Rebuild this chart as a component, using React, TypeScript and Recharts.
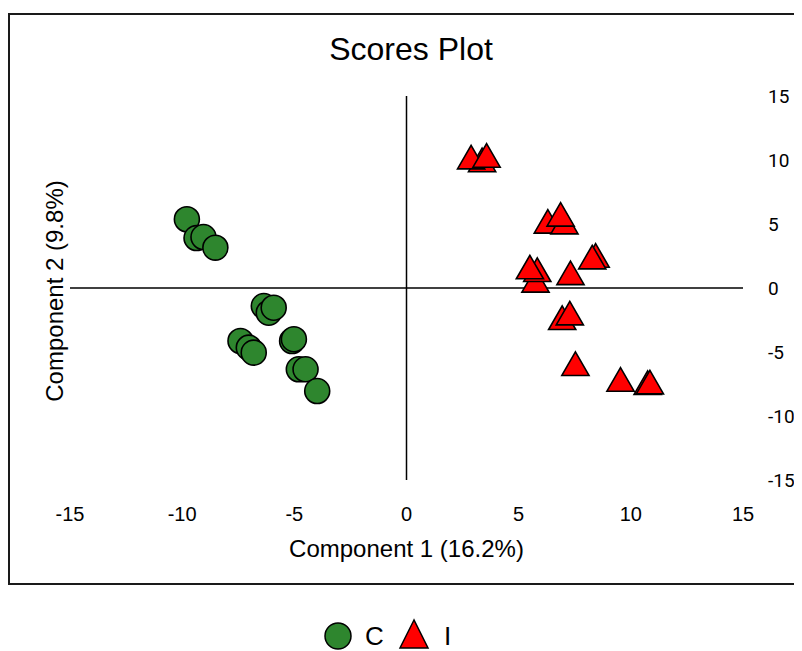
import { ScatterChart, Scatter, XAxis, YAxis, ReferenceLine, Symbols } from "recharts";

const xTicks = [-15, -10, -5, 0, 5, 10, 15];
const yTicks = [-15, -10, -5, 0, 5, 10, 15];

// group C (green circles)
const cX = [-9.79, -9.36, -9.05, -8.52, -6.36, -6.14, -5.92, -7.4, -7.03, -6.81, -5.1, -5.02, -4.8, -4.5, -3.98];
const cY = [5.37, 3.9, 3.98, 3.15, -1.41, -1.93, -1.54, -4.14, -4.66, -5.05, -4.14, -4.0, -6.35, -6.35, -8.05];

// group I (red triangles)
const iX = [3.37, 2.88, 3.57, 6.3, 7.04, 6.87, 8.43, 8.28, 5.75, 5.83, 5.5, 7.31, 6.94, 7.28, 7.53, 9.54, 10.75, 10.85];
const iY = [9.7, 9.92, 10.05, 4.9, 4.84, 5.45, 2.24, 2.11, 0.29, 1.12, 1.33, 0.88, -2.63, -2.27, -6.22, -7.45, -7.7, -7.66];

const cData = cX.map((x, i) => ({ x, y: cY[i] }));
const iData = iX.map((x, i) => ({ x, y: iY[i] }));

const GREEN = "#2E862E";
const RED = "#FF0000";
const ARIAL = "'Liberation Sans', Arial, sans-serif";

const circleShape = (p: any) => (
  <Symbols cx={p.cx} cy={p.cy} type="circle" size={490} fill={GREEN} stroke="#000" strokeWidth={1.6} />
);
const triangleShape = (p: any) => (
  <Symbols cx={p.cx} cy={p.cy} type="triangle" size={320} fill={RED} stroke="#000" strokeWidth={1.6} />
);

export default function App() {
  return (
    <div style={{ position: "relative", width: 794, height: 643, overflow: "hidden" }}>
      <style>{"html,body{overflow:hidden}"}</style>
      <div
        style={{
          position: "absolute",
          left: 0,
          top: 5,
          width: 820,
          height: 568,
          border: "2px solid #1a1a1a",
        }}
      />
      <div
        style={{
          position: "absolute",
          left: 403,
          top: 25,
          transform: "translateX(-50%)",
          fontFamily: ARIAL,
          fontSize: 32,
          lineHeight: "32px",
          whiteSpace: "nowrap",
        }}
      >
        Scores Plot
      </div>
      <ScatterChart width={794} height={643} margin={{ top: 88, right: 0, bottom: 111, left: 62 }}>
        <XAxis
          type="number"
          dataKey="x"
          domain={[-15, 15]}
          ticks={xTicks}
          axisLine={false}
          tickLine={false}
          tickSize={0}
          tickMargin={27}
          height={60}
          tick={{ fill: "#000", fontSize: 20, fontFamily: ARIAL }}
        />
        <YAxis
          type="number"
          dataKey="y"
          orientation="right"
          domain={[-15, 15]}
          ticks={yTicks}
          axisLine={false}
          tickLine={false}
          tickSize={0}
          tickMargin={25}
          width={59}
          tick={{ fill: "#000", fontSize: 19, fontFamily: "Roboto, sans-serif" }}
        />
        <ReferenceLine x={0} stroke="#000" strokeWidth={1.5} />
        <ReferenceLine y={0} stroke="#000" strokeWidth={1.5} />
        <Scatter name="C" data={cData} shape={circleShape} fill={GREEN} isAnimationActive={false} />
        <Scatter name="I" data={iData} shape={triangleShape} fill={RED} isAnimationActive={false} />
      </ScatterChart>
      <div
        style={{
          position: "absolute",
          left: 398.5,
          top: 529,
          transform: "translateX(-50%)",
          fontFamily: ARIAL,
          fontSize: 24,
          lineHeight: "24px",
          whiteSpace: "nowrap",
        }}
      >
        Component 1 (16.2%)
      </div>
      <div
        style={{
          position: "absolute",
          left: 47,
          top: 282.5,
          transform: "translate(-50%, -50%) rotate(-90deg)",
          fontFamily: ARIAL,
          fontSize: 24,
          lineHeight: "24px",
          whiteSpace: "nowrap",
        }}
      >
        Component 2 (9.8%)
      </div>
      <svg width={30} height={30} style={{ position: "absolute", left: 315, top: 613 }}>
        <circle cx={15} cy={15} r={13} fill={GREEN} stroke="#000" strokeWidth={1.5} />
      </svg>
      <div
        style={{ position: "absolute", left: 357, top: 615, fontFamily: ARIAL, fontSize: 26, lineHeight: "26px" }}
      >
        C
      </div>
      <svg width={32} height={32} style={{ position: "absolute", left: 390, top: 610 }}>
        <polygon points="16,2 2,30 30,30" fill={RED} stroke="#000" strokeWidth={1.5} />
      </svg>
      <div
        style={{ position: "absolute", left: 436, top: 615, fontFamily: ARIAL, fontSize: 26, lineHeight: "26px" }}
      >
        I
      </div>
    </div>
  );
}
